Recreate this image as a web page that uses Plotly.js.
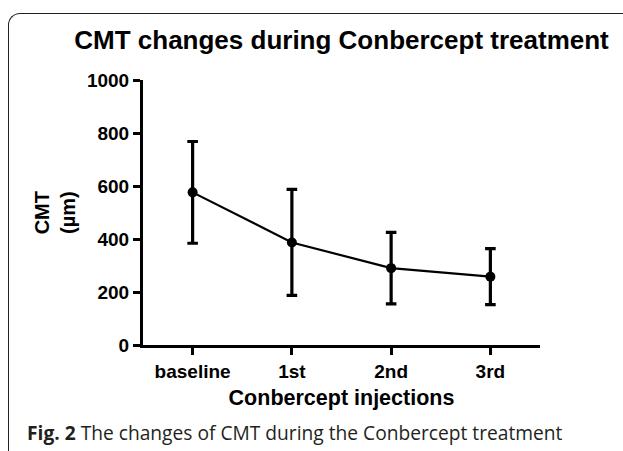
<!DOCTYPE html>
<html>
<head>
<meta charset="utf-8">
<script src="https://cdn.plot.ly/plotly-3.0.1.min.js"></script>
<style>
  html, body { margin: 0; padding: 0; background: #fff; }
  #wrap { position: relative; width: 623px; height: 451px; overflow: hidden; }
  #frame { position: absolute; left: 8px; top: 13px; width: 700px; height: 600px;
           border-top: 1.5px solid #222; border-left: 1.5px solid #222; border-top-left-radius: 12px; }
  #chart { position: absolute; left: 0; top: 0; width: 623px; height: 451px; }
</style>
</head>
<body>
<div id="wrap">
  <div id="frame"></div>
  <div id="chart"></div>
</div>
<script>
const categories = ["baseline", "1st", "2nd", "3rd"];
const cmtMean = [576, 387, 290, 258];
const cmtSD = [192, 200, 135, 106];
const yTicks = [0, 200, 400, 600, 800, 1000];

const trace = {
  x: categories,
  y: cmtMean,
  type: "scatter",
  mode: "lines+markers",
  line: { color: "#000", width: 2.2 },
  marker: { color: "#000", size: 10 },
  error_y: { type: "data", array: cmtSD, visible: true, color: "#000", thickness: 3.2, width: 5.3 },
  showlegend: false,
  cliponaxis: false
};

const layout = {
  width: 623, height: 451,
  paper_bgcolor: "rgba(0,0,0,0)",
  plot_bgcolor: "rgba(0,0,0,0)",
  margin: { l: 143, r: 83, t: 80, b: 106 },
  title: {
    text: "<b>CMT changes during Conbercept treatment</b>",
    font: { family: "Arial", size: 26, color: "#000" },
    xref: "paper", x: 0.5, xanchor: "center",
    yref: "container", y: 0.912, yanchor: "middle"
  },
  xaxis: {
    type: "category",
    range: [-0.5, 3.5],
    showline: true, linecolor: "#000", linewidth: 3,
    ticks: "outside", ticklen: 7, tickwidth: 3, tickcolor: "#000",
    showgrid: false, zeroline: false,
    tickfont: { family: "Arial", size: 19, color: "#000", weight: "bold" },
    title: { text: "<b>Conbercept injections</b>", standoff: 10,
             font: { family: "Arial", size: 21.5, color: "#000" } }
  },
  yaxis: {
    range: [0, 1000],
    tickvals: yTicks,
    showline: true, linecolor: "#000", linewidth: 3,
    ticks: "outside", ticklen: 7, tickwidth: 3, tickcolor: "#000",
    showgrid: false, zeroline: false,
    tickfont: { family: "Arial", size: 19, color: "#000", weight: "bold" }
  },
  annotations: [
    {
      text: "<b>CMT<br>(µm)</b>",
      xref: "paper", yref: "paper", x: -0.222, y: 0.5,
      xanchor: "center", yanchor: "middle", textangle: -90, showarrow: false,
      font: { family: "Arial", size: 20, color: "#000" }
    },
    {
      text: "<b>Fig. 2</b> The changes of CMT during the Conbercept treatment",
      xref: "paper", yref: "paper", x: -0.297, y: -0.33,
      xanchor: "left", yanchor: "middle", showarrow: false, align: "left",
      font: { family: "Open Sans", size: 19.2, color: "#231f20" }
    }
  ]
};

Plotly.newPlot("chart", [trace], layout, { displayModeBar: false, staticPlot: true });
</script>
</body>
</html>
